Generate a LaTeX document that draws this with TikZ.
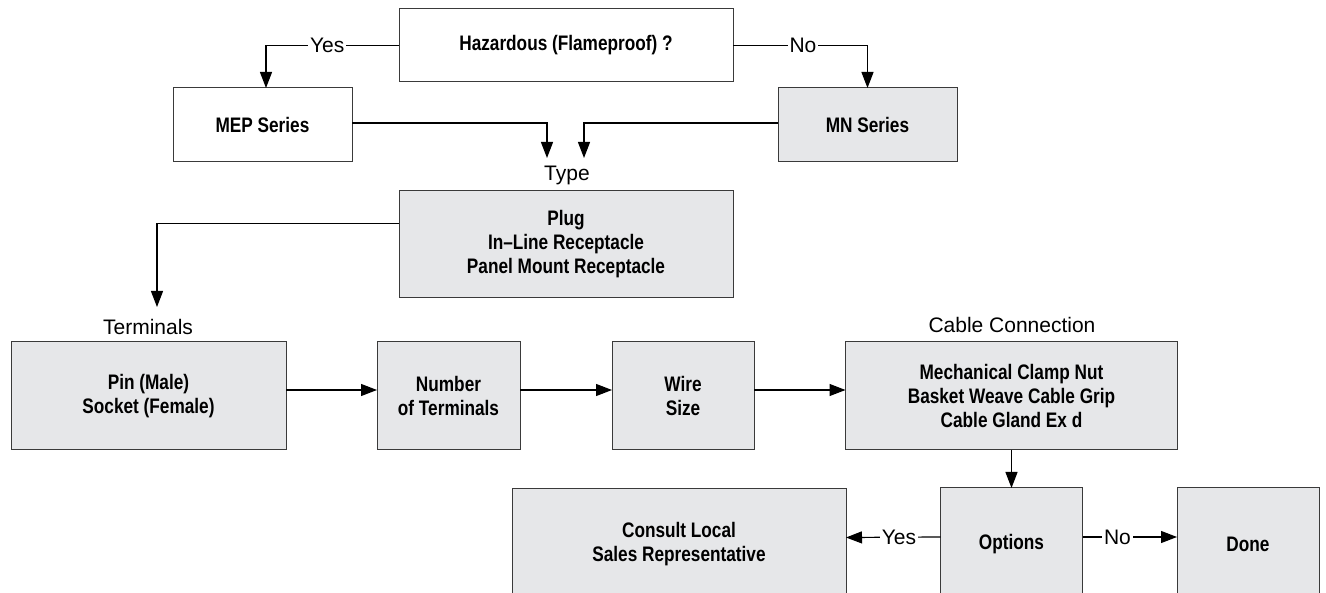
\documentclass[tikz,border=0pt]{standalone}
\usepackage{fontspec}
\setmainfont{Liberation Sans}
\newfontfamily\bxf[FakeStretch=0.82]{Liberation Sans}
\usetikzlibrary{arrows.meta}
\definecolor{boxgray}{HTML}{E6E7E9}
\definecolor{edgegray}{HTML}{3A3A3A}
\tikzset{
  box/.style={draw=edgegray, line width=1pt, inner sep=0pt, outer sep=0pt, align=center,
    font=\bxf\bfseries\fontsize{21}{24}\selectfont},
  wbox/.style={box, fill=white},
  gbox/.style={box, fill=boxgray},
  lbl/.style={font=\fontsize{21}{25}\selectfont, inner sep=0pt},
  onlbl/.style={font=\fontsize{21}{25}\selectfont, fill=white, inner sep=2pt},
  conn/.style={line width=1.2pt, -{Triangle[length=16pt,width=12pt]}}
}
\begin{document}
\begin{tikzpicture}[x=1pt,y=-1pt]
\clip (0,0) rectangle (1326,593);
\fill[white] (0,0) rectangle (1326,593);

\node[wbox, minimum width=334pt, minimum height=73pt] (haz) at (566,45.5) {Hazardous (Flameproof) ?};
\node[wbox, minimum width=179pt, minimum height=74pt] (mep) at (262.5,125) {MEP Series};
\node[gbox, minimum width=179pt, minimum height=74pt] (mn) at (867.5,125) {MN Series};
\node[gbox, minimum width=334pt, minimum height=107pt] (typ) at (566,244.5) {Plug\\In–Line Receptacle\\Panel Mount Receptacle};
\node[gbox, minimum width=275pt, minimum height=108pt] (pin) at (148.5,396) {Pin (Male)\\Socket (Female)};
\node[gbox, minimum width=143pt, minimum height=108pt] (num) at (448.5,396) {Number\\of Terminals};
\node[gbox, minimum width=142pt, minimum height=108pt] (wire) at (683,396) {Wire\\Size};
\node[gbox, minimum width=332pt, minimum height=108pt] (cab) at (1011.5,396) {Mechanical Clamp Nut\\Basket Weave Cable Grip\\Cable Gland Ex d};
\node[gbox, minimum width=334pt, minimum height=111pt] (con) at (679,544.5) {Consult Local\\Sales Representative};
\node[gbox, minimum width=142pt, minimum height=112pt] (opt) at (1011.5,544) {Options};
\node[gbox, minimum width=142pt, minimum height=112pt] (done) at (1248,544) {Done};

\node[lbl] (ltype) at (567,175) {Type};
\node[lbl] (lterm) at (148,327) {Terminals};
\node[lbl] (lcab) at (1012,325) {Cable Connection};

\coordinate (t1) at (547,158);
\coordinate (t2) at (584,158);
\coordinate (tm) at (157,307);

\draw[conn] (haz.west) -| node[onlbl, pos=0.27] {Yes} ([xshift=3.5pt]mep.north);
\draw[conn] (haz.east) -| node[onlbl, pos=0.26] {No} (mn.north);
\draw[conn] ([yshift=2pt]mep.east) -| (t1);
\draw[conn] ([yshift=2pt]mn.west) -| (t2);
\draw[conn] ([yshift=21pt]typ.west) -| (tm);
\draw[conn] ([yshift=6pt]pin.east) -- ([yshift=6pt]num.west);
\draw[conn] ([yshift=6pt]num.east) -- ([yshift=6pt]wire.west);
\draw[conn] ([yshift=6pt]wire.east) -- ([yshift=6pt]cab.west);
\draw[conn] (cab.south) -- (opt.north);
\draw[conn] ([yshift=7pt]opt.west) -- node[onlbl, pos=0.44] {Yes} ([yshift=7pt]con.east);
\draw[conn] ([yshift=7pt]opt.east) -- node[onlbl, pos=0.37] {No} ([yshift=7pt]done.west);
\end{tikzpicture}
\end{document}
